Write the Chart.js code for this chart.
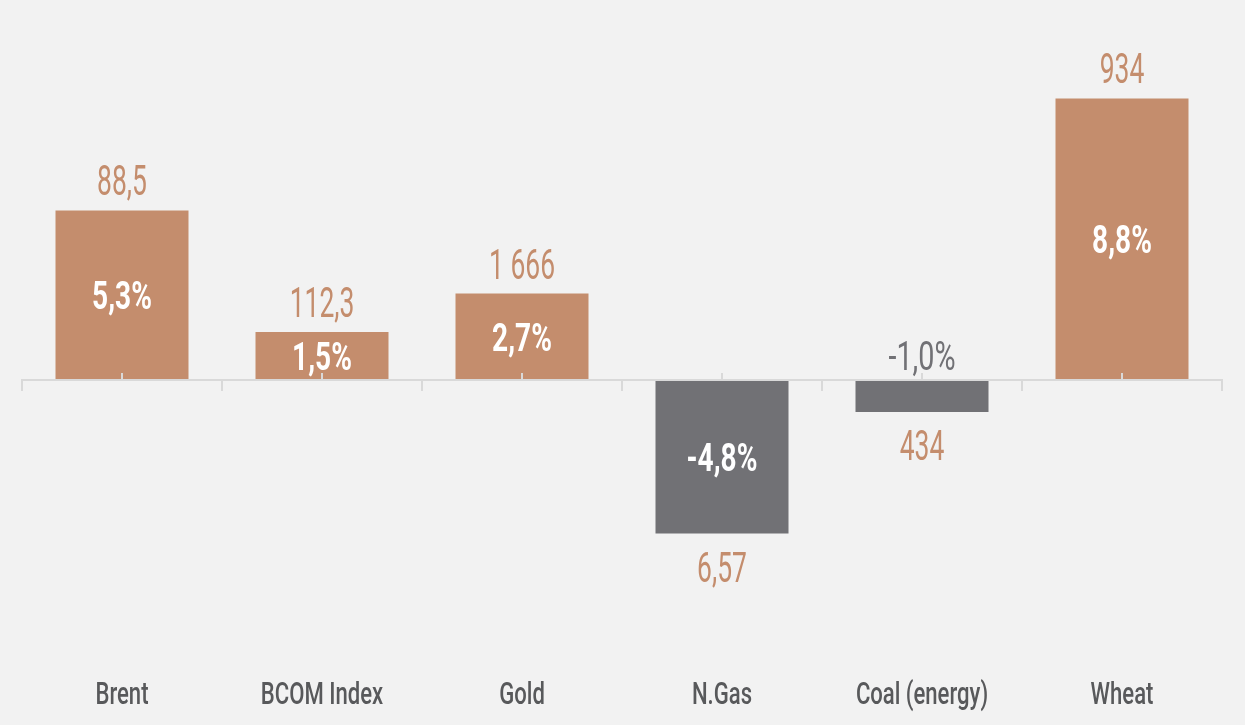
<!DOCTYPE html>
<html>
<head>
<meta charset="utf-8">
<script src="https://cdn.jsdelivr.net/npm/chart.js@4.4.1/dist/chart.umd.min.js"></script>
<style>
  html, body { margin: 0; padding: 0; background: #f2f2f2; }
  #caja { width: 1245px; height: 725px; position: relative; }
</style>
</head>
<body>
<div id="caja"><canvas id="grafico"></canvas></div>
<script>
// datos
const categorias = ["Brent", "BCOM Index", "Gold", "N.Gas", "Coal (energy)", "Wheat"];
const variacion = [5.3, 1.5, 2.7, -4.8, -1.0, 8.8];
const precios = ["88,5", "112,3", "1 666", "6,57", "434", "934"];
const rangoY = [-8, 10];

const COBRE = "#c48d6d";
const GRIS = "#717175";
const TEXTO = "#58595b";
const LINEA = "#d9d9d9";

// texto estrecho (la fuente original es condensada)
function texto(ctx, s, x, yCentro, color, peso, size, sx) {
  ctx.save();
  ctx.translate(x, yCentro + size * 0.355);
  ctx.scale(sx, 1);
  ctx.font = peso + " " + size + "px Roboto, 'Liberation Sans', sans-serif";
  ctx.fillStyle = color;
  ctx.textAlign = "center";
  ctx.textBaseline = "alphabetic";
  ctx.fillText(s, 0, 0);
  ctx.restore();
}

const etiquetas = {
  id: "etiquetas",
  afterDatasetsDraw(chart) {
    const ctx = chart.ctx;
    const y0 = chart.scales.y.getPixelForValue(0);
    chart.getDatasetMeta(0).data.forEach((bar, i) => {
      const v = variacion[i];
      const pct = v.toFixed(1).replace(".", ",") + "%";
      const alto = Math.abs(bar.y - bar.base);
      if (alto > 40) {
        texto(ctx, pct, bar.x, (bar.y + bar.base) / 2, "#fff", "bold", 39, 0.72);
      } else {
        texto(ctx, pct, bar.x, v < 0 ? y0 - 24 : y0 + 24, GRIS, "normal", 40, 0.72);
      }
      const yp = v >= 0 ? bar.y - 30 : bar.y + 33;
      texto(ctx, precios[i], bar.x, yp, COBRE, "normal", 42, 0.63);
    });
  },
  afterDraw(chart) {
    const ctx = chart.ctx;
    const x = chart.scales.x;
    categorias.forEach((c, i) => {
      texto(ctx, c, x.getPixelForValue(i), chart.chartArea.bottom + 57, TEXTO, "500", 32, 0.69);
    });
  }
};

new Chart(document.getElementById("grafico"), {
  type: "bar",
  data: {
    labels: categorias,
    datasets: [{
      data: variacion,
      backgroundColor: variacion.map(v => v < 0 ? GRIS : COBRE),
      barPercentage: 0.665,
      categoryPercentage: 1
    }]
  },
  options: {
    responsive: true,
    maintainAspectRatio: false,
    animation: false,
    layout: { padding: { left: 22, right: 23, top: 60, bottom: 89 } },
    plugins: { legend: { display: false }, tooltip: { enabled: false } },
    scales: {
      y: { display: false, min: rangoY[0], max: rangoY[1] },
      x: {
        type: "category",
        offset: true,
        position: { y: 0 },
        grid: { offset: true, drawOnChartArea: false, color: LINEA, lineWidth: 2, tickLength: 10, z: 1 },
        border: { color: LINEA, width: 2, z: 1 },
        ticks: { display: false }
      },
      xc: {
        type: "category",
        labels: categorias,
        offset: true,
        position: { y: 0 },
        grid: { offset: false, drawOnChartArea: false, color: LINEA, lineWidth: 2, tickLength: -7, z: 1 },
        border: { display: false },
        ticks: { display: false }
      }
    }
  },
  plugins: [etiquetas]
});
</script>
</body>
</html>
